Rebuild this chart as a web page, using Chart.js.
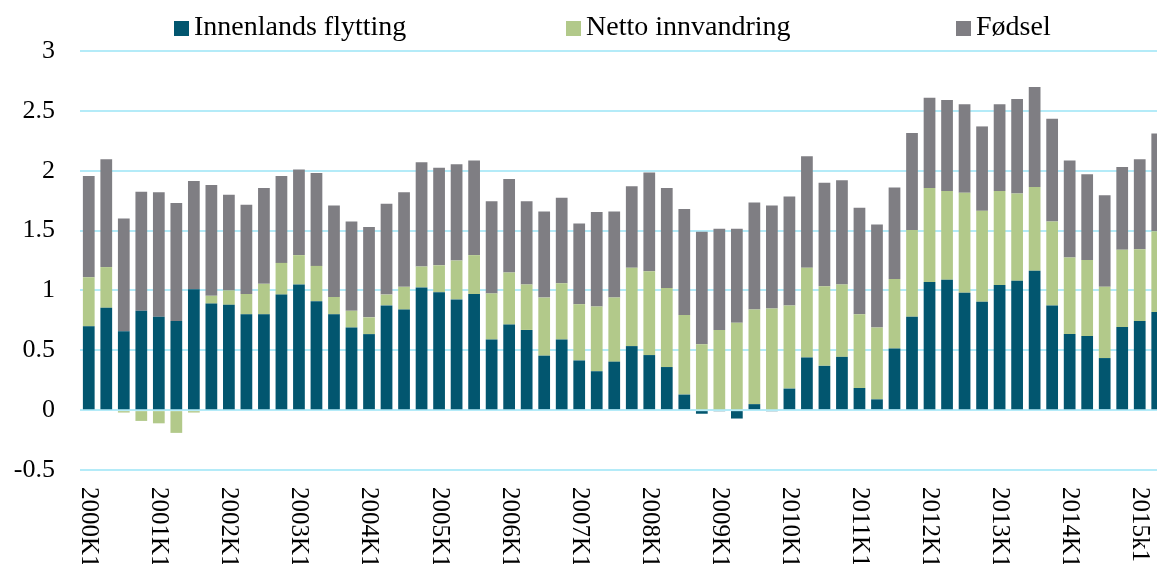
<!DOCTYPE html>
<html>
<head>
<meta charset="utf-8">
<script src="https://cdn.jsdelivr.net/npm/chart.js@4/dist/chart.umd.min.js"></script>
<style>
  html, body { margin: 0; padding: 0; background: #ffffff; overflow: hidden; }
  #wrap { width: 1166px; height: 564px; position: relative; }
</style>
</head>
<body>
<div id="wrap"><canvas id="c" width="1166" height="564"></canvas></div>
<script>
const categories = [
  "2000K1","2000K2","2000K3","2000K4","2001K1","2001K2","2001K3","2001K4",
  "2002K1","2002K2","2002K3","2002K4","2003K1","2003K2","2003K3","2003K4",
  "2004K1","2004K2","2004K3","2004K4","2005K1","2005K2","2005K3","2005K4",
  "2006K1","2006K2","2006K3","2006K4","2007K1","2007K2","2007K3","2007K4",
  "2008K1","2008K2","2008K3","2008K4","2009K1","2009K2","2009K3","2009K4",
  "2010K1","2010K2","2010K3","2010K4","2011K1","2011K2","2011K3","2011K4",
  "2012K1","2012K2","2012K3","2012K4","2013K1","2013K2","2013K3","2013K4",
  "2014K1","2014K2","2014K3","2014K4","2015K1","2015K2"
];

const xTickLabels = [
  "2000K1","2001K1","2002K1","2003K1","2004K1","2005K1","2006K1","2007K1",
  "2008K1","2009K1","2010K1","2011K1","2012K1","2013K1","2014K1","2015k1"
];

const yTickValues = [-0.5, 0, 0.5, 1, 1.5, 2, 2.5, 3];

const seriesNames = ["Innenlands flytting", "Netto innvandring", "Fødsel"];
const seriesColors = ["#02566F", "#B2C98A", "#7F7E83"];

const innenlandsFlytting = [
  0.70, 0.855, 0.66, 0.83, 0.78, 0.745, 1.01, 0.89,
  0.88, 0.80, 0.80, 0.965, 1.05, 0.91, 0.80, 0.69,
  0.635, 0.875, 0.84, 1.025, 0.985, 0.925, 0.97, 0.59,
  0.715, 0.67, 0.455, 0.59, 0.415, 0.325, 0.405, 0.535,
  0.46, 0.36, 0.13, -0.03, -0.01, -0.07, 0.05, -0.01,
  0.18, 0.44, 0.37, 0.445, 0.185, 0.09, 0.515, 0.78,
  1.07, 1.09, 0.98, 0.905, 1.045, 1.08, 1.165, 0.875,
  0.635, 0.62, 0.435, 0.695, 0.745, 0.82
];

const nettoInnvandring = [
  0.41, 0.34, -0.02, -0.09, -0.11, -0.19, -0.02, 0.065,
  0.12, 0.17, 0.255, 0.265, 0.245, 0.295, 0.145, 0.14,
  0.14, 0.09, 0.19, 0.175, 0.225, 0.325, 0.325, 0.385,
  0.435, 0.38, 0.485, 0.47, 0.47, 0.54, 0.535, 0.655,
  0.70, 0.66, 0.665, 0.55, 0.67, 0.73, 0.79, 0.85,
  0.695, 0.75, 0.665, 0.605, 0.615, 0.60, 0.58, 0.725,
  0.785, 0.74, 0.835, 0.76, 0.785, 0.73, 0.70, 0.70,
  0.64, 0.635, 0.595, 0.645, 0.60, 0.675
];

const fodsel = [
  0.845, 0.90, 0.94, 0.995, 1.04, 0.985, 0.905, 0.925,
  0.80, 0.745, 0.80, 0.725, 0.715, 0.775, 0.765, 0.745,
  0.755, 0.76, 0.79, 0.87, 0.815, 0.805, 0.79, 0.77,
  0.78, 0.695, 0.72, 0.715, 0.675, 0.79, 0.72, 0.68,
  0.825, 0.835, 0.885, 0.94, 0.845, 0.785, 0.895, 0.86,
  0.91, 0.93, 0.865, 0.87, 0.89, 0.86, 0.765, 0.81,
  0.755, 0.76, 0.74, 0.705, 0.725, 0.79, 0.835, 0.86,
  0.81, 0.715, 0.765, 0.69, 0.75, 0.815
];

const SERIF = '"Liberation Serif", "Times New Roman", serif';

// Custom legend drawn at the positions used in the original figure
const legendPlugin = {
  id: 'customLegend',
  afterDraw(chart, args, opts) {
    const ctx = chart.ctx;
    ctx.save();
    ctx.font = '28px ' + SERIF;
    ctx.textBaseline = 'alphabetic';
    ctx.textAlign = 'left';
    chart.data.datasets.forEach((ds, i) => {
      const x = opts.positions[i];
      ctx.fillStyle = ds.backgroundColor;
      ctx.fillRect(x, opts.boxTop, opts.boxSize, opts.boxSize);
      ctx.fillStyle = '#000000';
      ctx.fillText(ds.label, x + opts.boxSize + 5, opts.baseline);
    });
    ctx.restore();
  }
};

// X tick labels rotated clockwise (reading top to bottom)
const xLabelPlugin = {
  id: 'rotatedXLabels',
  afterDraw(chart, args, opts) {
    const ctx = chart.ctx;
    const xs = chart.scales.x;
    ctx.save();
    ctx.font = '25px ' + SERIF;
    ctx.fillStyle = '#000000';
    ctx.textAlign = 'left';
    ctx.textBaseline = 'middle';
    xTickLabels.forEach((lab, k) => {
      const idx = k * 4;
      const x = xs.getPixelForValue(idx);
      ctx.save();
      ctx.translate(x, opts.top);
      ctx.rotate(Math.PI / 2);
      ctx.fillText(lab, 0, 0);
      ctx.restore();
    });
    ctx.restore();
  }
};

const datasets = [innenlandsFlytting, nettoInnvandring, fodsel].map((arr, i) => ({
  label: seriesNames[i],
  data: arr,
  backgroundColor: seriesColors[i],
  borderWidth: 0,
  barPercentage: 0.67,
  categoryPercentage: 1.0
}));

new Chart(document.getElementById('c'), {
  type: 'bar',
  data: { labels: categories, datasets },
  options: {
    responsive: false,
    animation: false,
    devicePixelRatio: 1,
    layout: { padding: { top: 51, left: 0, right: 0, bottom: 0 } },
    plugins: {
      legend: { display: false },
      tooltip: { enabled: false },
      customLegend: { positions: [174, 566, 956], boxTop: 21, boxSize: 15, baseline: 35 },
      rotatedXLabels: { top: 487 }
    },
    scales: {
      x: {
        stacked: true,
        grid: { display: false, drawTicks: false },
        border: { display: false },
        ticks: { display: false },
        afterFit(scale) { scale.height = 94; }
      },
      y: {
        stacked: true,
        min: -0.5,
        max: 3,
        afterBuildTicks(scale) { scale.ticks = yTickValues.map(v => ({ value: v })); },
        grid: { color: '#B4EBF8', lineWidth: 2, drawTicks: false },
        border: { display: false },
        ticks: {
          padding: 25,
          color: '#000000',
          font: { family: SERIF, size: 26 },
          callback: (v) => String(v)
        },
        afterFit(scale) { scale.width = 80; }
      }
    }
  },
  plugins: [legendPlugin, xLabelPlugin]
});
</script>
</body>
</html>
